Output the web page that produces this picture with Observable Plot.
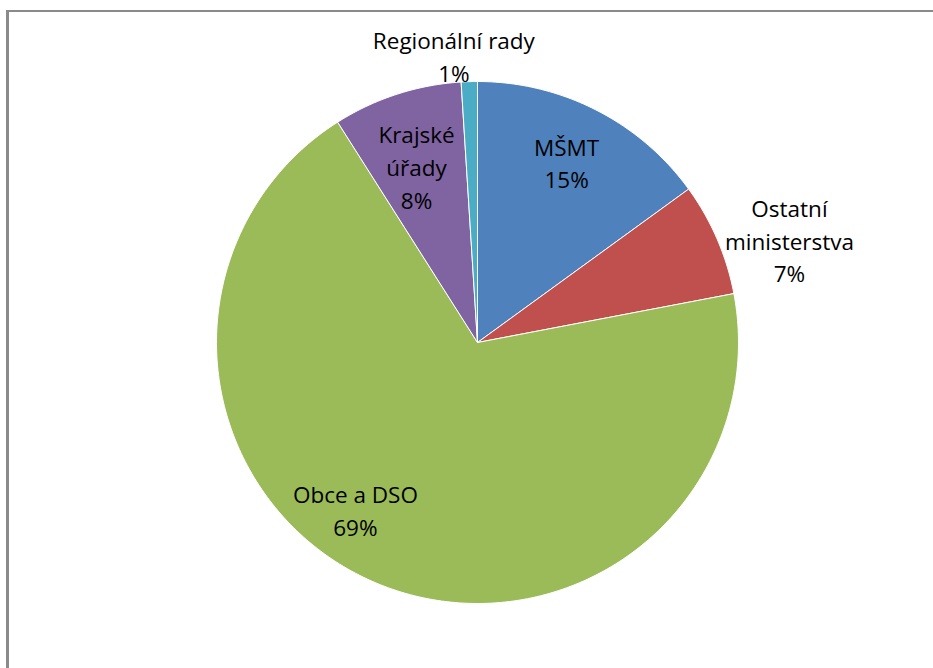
<!DOCTYPE html>
<html>
<head>
<meta charset="utf-8">
<script src="https://cdn.jsdelivr.net/npm/d3@7"></script>
<script src="https://cdn.jsdelivr.net/npm/@observablehq/plot@0.6"></script>
<style>
  html, body { margin: 0; padding: 0; background: #fff; overflow: hidden; }
  #wrap { position: relative; width: 933px; height: 668px; }
  #frame { position: absolute; left: 6px; top: 10px; width: 2000px; height: 2000px;
           border-left: 3px solid #8a8a8a; border-top: 2px solid #8a8a8a; pointer-events: none; }
</style>
</head>
<body>
<div id="wrap"><div id="frame"></div></div>
<script>
// Data
const categories = ["MŠMT", "Ostatní ministerstva", "Obce a DSO", "Krajské úřady", "Regionální rady"];
const shares = [15, 7, 69, 8, 1];
const labelLines = [["MŠMT"], ["Ostatní", "ministerstva"], ["Obce a DSO"], ["Krajské", "úřady"], ["Regionální rady"]];
const colors = ["#4F81BD", "#C0504D", "#9BBB59", "#8064A2", "#4BACC6"];

// Layout for labels: [angle in degrees clockwise from top, radius factor]
const labelPlacement = [[26.2, 0.773], [71.7, 1.259], [216.2, 0.792], [341.0, 0.717], [355.3, 1.105]];

const total = d3.sum(shares);
const slices = [];
let acc = 0;
shares.forEach((v, i) => {
  const a0 = acc / total * 2 * Math.PI;
  acc += v;
  const a1 = acc / total * 2 * Math.PI;
  slices.push({cat: categories[i], a0, a1, v});
});

// Build polygon outlines for each slice (center + arc samples)
const pts = [];
slices.forEach(s => {
  pts.push({cat: s.cat, x: 0, y: 0});
  const n = Math.max(4, Math.ceil((s.a1 - s.a0) / (Math.PI / 180)));
  for (let k = 0; k <= n; k++) {
    const a = s.a0 + (s.a1 - s.a0) * k / n;
    pts.push({cat: s.cat, x: Math.sin(a), y: Math.cos(a)});
  }
  pts.push({cat: s.cat, x: 0, y: 0});
});

const labels = slices.map((s, i) => {
  const [deg, r] = labelPlacement[i];
  const a = deg * Math.PI / 180;
  return {
    cat: s.cat,
    x: r * Math.sin(a),
    y: r * Math.cos(a),
    text: labelLines[i].concat([Math.round(s.v / total * 100) + "%"]).join("\n")
  };
});

const chart = Plot.plot({
  width: 933,
  height: 668,
  margin: 0,
  x: {domain: [-1, 1], range: [216, 738], axis: null},
  y: {domain: [-1, 1], range: [603, 81], axis: null},
  color: {domain: categories, range: colors},
  style: {fontFamily: "'Open Sans', Lato, sans-serif", background: "transparent"},
  marks: [
    Plot.line(pts, {x: "x", y: "y", z: "cat", fill: "cat", stroke: "#ffffff", strokeWidth: 1, strokeLinejoin: "round", curve: "linear"}),
    Plot.text(labels, {x: "x", y: "y", text: "text", fontSize: 22.5, lineHeight: 1.45, fill: "#000", textAnchor: "middle", lineAnchor: "middle"})
  ]
});
chart.style.position = "absolute";
chart.style.left = "0px";
chart.style.top = "0px";
document.getElementById("wrap").appendChild(chart);
</script>
</body>
</html>
